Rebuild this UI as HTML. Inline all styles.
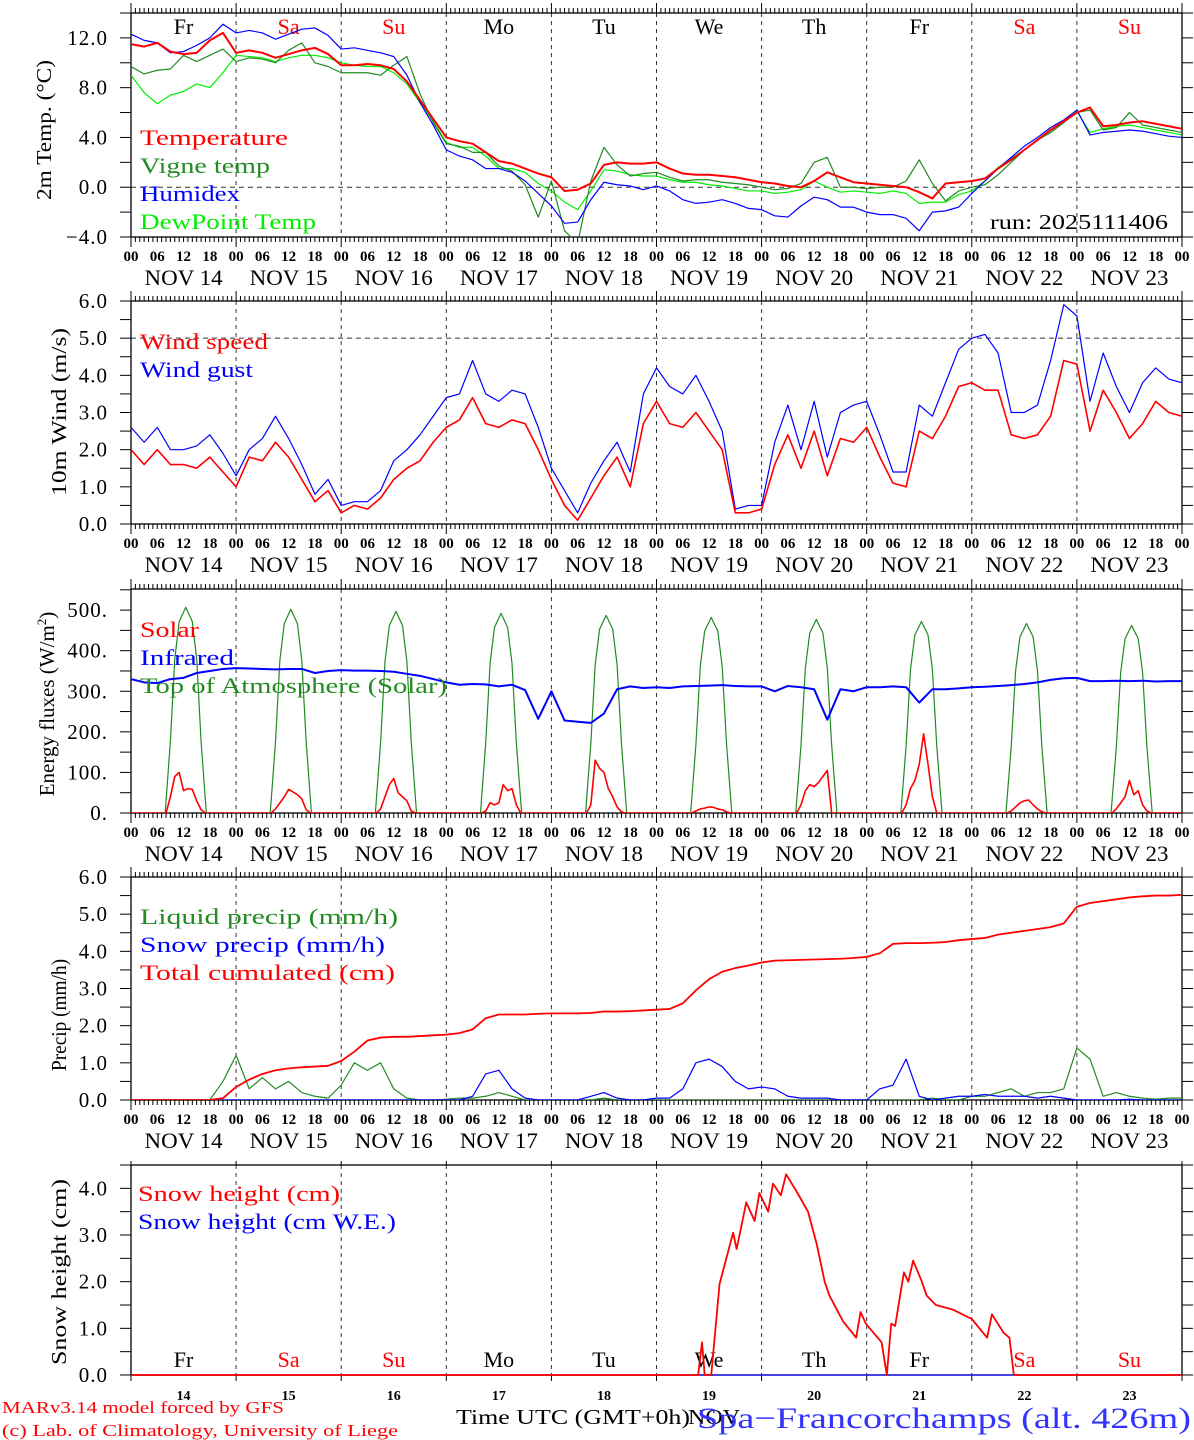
<!DOCTYPE html>
<html><head><meta charset="utf-8"><title>MAR forecast Spa-Francorchamps</title>
<style>
html,body{margin:0;padding:0;background:#fff;}
svg{display:block;font-family:"Liberation Serif",serif;}
</style></head>
<body>
<svg id="chart" width="1194" height="1440" viewBox="0 0 1194 1440" xmlns="http://www.w3.org/2000/svg">
<defs>
<clipPath id="c1"><rect x="131" y="13" width="1051" height="224"/></clipPath>
<clipPath id="c2"><rect x="131" y="301" width="1051" height="223"/></clipPath>
<clipPath id="c3"><rect x="131" y="589" width="1051" height="224"/></clipPath>
<clipPath id="c4"><rect x="131" y="877" width="1051" height="223"/></clipPath>
<clipPath id="c5"><rect x="131" y="1165" width="1051" height="212"/></clipPath>
</defs>
<g id="axes"></g>
<g id="marks"></g>
<g id="labels" font-size="22">
<text transform="translate(51,130) rotate(-90)" text-anchor="middle" textLength="140" font-size="21">2m Temp. (°C)</text>
<text transform="translate(66,412) rotate(-90)" text-anchor="middle" textLength="168" font-size="21">10m Wind (m/s)</text>
<text transform="translate(54,704) rotate(-90)" text-anchor="middle" font-size="21">Energy fluxes (W/m<tspan font-size="13" dy="-8">2</tspan><tspan dy="8">)</tspan></text>
<text transform="translate(66,1015) rotate(-90)" text-anchor="middle" textLength="112" font-size="21">Precip (mm/h)</text>
<text transform="translate(66,1272) rotate(-90)" text-anchor="middle" textLength="186" font-size="21">Snow height (cm)</text>

<text x="140" y="145" fill="#ff0000" textLength="148">Temperature</text>
<text x="140" y="173" fill="#228b22" textLength="130">Vigne temp</text>
<text x="140" y="201" fill="#0000ff" textLength="100">Humidex</text>
<text x="140" y="229" fill="#00ee00" textLength="176">DewPoint Temp</text>
<text x="990" y="229" fill="#000" textLength="178" font-size="21">run: 2025111406</text>

<text x="140" y="349" fill="#ff0000" textLength="128">Wind speed</text>
<text x="140" y="377" fill="#0000ff" textLength="113">Wind gust</text>

<text x="140" y="637" fill="#ff0000" textLength="59">Solar</text>
<text x="140" y="665" fill="#0000ff" textLength="94">Infrared</text>
<text x="140" y="693" fill="#228b22" textLength="307">Top of Atmosphere (Solar)</text>

<text x="140" y="924" fill="#228b22" textLength="258">Liquid precip (mm/h)</text>
<text x="140" y="952" fill="#0000ff" textLength="245">Snow precip (mm/h)</text>
<text x="140" y="980" fill="#ff0000" textLength="255">Total cumulated (cm)</text>

<text x="138" y="1201" fill="#ff0000" textLength="202">Snow height (cm)</text>
<text x="138" y="1229" fill="#0000ff" textLength="258">Snow height (cm W.E.)</text>

<text x="2" y="1413" fill="#ff0000" font-size="17" textLength="282">MARv3.14 model forced by GFS</text>
<text x="2" y="1436" fill="#ff0000" font-size="17" textLength="396">(c) Lab. of Climatology, University of Liege</text>
<text x="456" y="1424" fill="#000" font-size="21" textLength="234">Time UTC (GMT+0h)</text>
<text x="688" y="1424" fill="#000" font-size="21" textLength="52">NOV</text>
<text x="697" y="1428" fill="#3333ff" font-size="30" textLength="494">Spa−Francorchamps (alt. 426m)</text>
</g>
</svg>
<script>
// ---------- data ----------
const dayNames = ["Fr","Sa","Su","Mo","Tu","We","Th","Fr","Sa","Su"];
const dayNums = ["14","15","16","17","18","19","20","21","22","23"];
const hourTicks = ["00","06","12","18"];
const tempTicks = [-4, 0, 4, 8, 12];
const windTicks = [0,1,2,3,4,5,6];
const energyTicks = [0,100,200,300,400,500];
const precipTicks = [0,1,2,3,4,5,6];
const snowTicks = [0,1,2,3,4];

// 3-hourly series (81 values, hours 0..240)
const temperature = [11.5,11.3,11.6,10.9,10.7,10.8,11.8,12.4,
 10.8,11.0,10.8,10.4,10.7,11.0,11.2,10.7,
 9.8,9.8,9.9,9.8,9.5,8.5,7.0,5.5,
 4.0,3.7,3.5,2.8,2.1,1.9,1.5,1.1,
 0.8,-0.3,-0.2,0.3,1.8,2.0,1.9,1.9,
 2.0,1.5,1.1,1.0,1.0,0.9,0.8,0.6,
 0.4,0.3,0.1,0.0,0.5,1.2,0.8,0.4,
 0.3,0.2,0.1,0.0,-0.4,-0.9,0.3,0.4,
 0.5,0.7,1.5,2.2,3.0,3.8,4.6,5.3,
 6.0,6.4,4.9,5.0,5.2,5.3,5.1,4.9,4.7];
const vigneTemp = [9.7,9.1,9.4,9.5,10.6,10.1,10.6,11.1,
 10.1,10.4,10.3,10.0,11.0,11.6,10.0,9.7,
 9.2,9.2,9.2,9.0,9.8,10.5,7.5,5.2,
 3.5,3.3,2.8,2.8,1.7,1.3,0.2,-2.4,
 0.5,-3.5,-4.5,0.5,3.2,1.8,0.9,1.1,
 1.2,0.8,0.5,0.6,0.6,0.4,0.3,0.2,
 0.0,-0.2,-0.1,0.3,2.0,2.4,0.0,0.0,
 -0.1,0.0,0.0,0.5,2.2,0.3,-1.1,-0.3,
 0.0,0.2,1.0,2.0,3.0,3.8,4.4,5.2,
 6.0,6.2,4.6,4.8,6.0,5.0,4.8,4.6,4.4];
const humidex = [12.3,11.8,11.6,10.8,10.9,11.4,12.0,13.1,
 12.4,12.6,12.4,11.9,12.3,12.7,12.8,12.2,
 11.1,11.2,11.0,10.8,10.5,9.0,6.8,5.0,
 3.0,2.5,2.2,1.5,1.5,1.2,0.5,-0.5,
 -1.5,-2.9,-2.8,-1.0,0.4,0.2,0.1,-0.2,
 0.1,-0.3,-1.0,-1.3,-1.2,-1.0,-1.3,-1.7,
 -1.8,-2.3,-2.4,-1.5,-0.8,-1.0,-1.6,-1.6,
 -2.0,-2.2,-2.2,-2.5,-3.5,-2.0,-1.9,-1.6,
 -0.5,0.5,1.5,2.4,3.3,4.0,4.8,5.4,
 6.2,4.2,4.4,4.5,4.6,4.5,4.3,4.1,4.0];
const dewPoint = [9.0,7.6,6.7,7.4,7.7,8.3,8.0,9.2,
 10.6,10.5,10.4,10.1,10.4,10.6,10.6,10.4,
 10.0,9.8,9.7,9.7,9.2,8.3,6.8,5.3,
 3.6,3.2,3.2,2.5,1.5,1.5,1.2,0.3,
 -0.3,-1.2,-1.8,-0.3,1.4,1.3,1.0,0.9,
 0.9,0.6,0.4,0.4,0.2,0.1,-0.1,-0.3,
 -0.3,-0.5,-0.4,-0.2,0.5,0.0,-0.4,-0.3,
 -0.4,-0.5,-0.3,-0.5,-1.3,-1.2,-1.2,-0.6,
 -0.3,0.5,1.6,2.3,3.0,3.8,4.4,5.2,
 6.1,4.4,4.7,4.9,5.0,4.8,4.6,4.4,4.2];
const windSpeed = [2.0,1.6,2.0,1.6,1.6,1.5,1.8,1.4,
 1.0,1.8,1.7,2.2,1.8,1.2,0.6,0.9,
 0.3,0.5,0.4,0.7,1.2,1.5,1.7,2.2,
 2.6,2.8,3.4,2.7,2.6,2.8,2.7,2.0,
 1.2,0.5,0.1,0.7,1.3,1.8,1.0,2.7,
 3.3,2.7,2.6,3.0,2.5,2.0,0.3,0.3,
 0.4,1.6,2.4,1.5,2.5,1.3,2.3,2.2,
 2.6,1.8,1.1,1.0,2.5,2.3,2.9,3.7,
 3.8,3.6,3.6,2.4,2.3,2.4,2.9,4.4,
 4.3,2.5,3.6,3.0,2.3,2.7,3.3,3.0,2.9];
const windGust = [2.6,2.2,2.6,2.0,2.0,2.1,2.4,1.9,
 1.3,2.0,2.3,2.9,2.3,1.6,0.8,1.2,
 0.5,0.6,0.6,0.9,1.7,2.0,2.4,2.9,
 3.4,3.5,4.4,3.5,3.3,3.6,3.5,2.6,
 1.5,0.9,0.3,1.1,1.7,2.2,1.4,3.5,
 4.2,3.7,3.5,4.0,3.3,2.5,0.4,0.5,
 0.5,2.2,3.2,2.0,3.3,1.8,3.0,3.2,
 3.3,2.4,1.4,1.4,3.2,2.9,3.8,4.7,
 5.0,5.1,4.6,3.0,3.0,3.2,4.4,5.9,
 5.6,3.3,4.6,3.7,3.0,3.8,4.2,3.9,3.8];
const infrared = [330,322,320,330,333,345,350,355,
 357,356,355,354,355,355,345,350,
 352,351,351,350,348,343,338,330,
 322,316,318,317,312,316,303,232,
 300,228,225,222,245,305,312,308,
 310,308,312,313,314,315,313,312,
 312,300,313,310,305,230,305,300,
 310,310,312,310,272,305,305,307,
 310,311,313,315,318,322,328,332,
 333,325,325,326,325,326,324,325,325];
const totalCumul = [0,0,0,0,0,0,0,0.05,
 0.35,0.55,0.7,0.8,0.85,0.88,0.9,0.92,
 1.05,1.3,1.6,1.68,1.7,1.7,1.72,1.74,
 1.76,1.8,1.9,2.2,2.3,2.3,2.3,2.32,
 2.33,2.33,2.33,2.34,2.38,2.38,2.39,2.41,
 2.43,2.45,2.6,2.95,3.25,3.45,3.55,3.62,
 3.7,3.75,3.76,3.77,3.78,3.79,3.8,3.82,
 3.85,3.95,4.2,4.22,4.22,4.23,4.25,4.3,
 4.33,4.36,4.45,4.5,4.55,4.6,4.65,4.75,
 5.2,5.3,5.35,5.4,5.45,5.48,5.5,5.5,5.52];
const liquidPrecip = [0,0,0,0,0,0,0,0.5,
 1.2,0.3,0.6,0.3,0.5,0.2,0.1,0.05,
 0.4,1.0,0.8,1.0,0.3,0.05,0,0,
 0.02,0.05,0.05,0.1,0.2,0.1,0,0,
 0,0,0,0,0.05,0,0,0,
 0,0,0,0,0,0,0,0,
 0,0,0,0,0,0,0,0,
 0,0,0,0,0,0.05,0,0,
 0.1,0.1,0.2,0.3,0.1,0.2,0.2,0.3,
 1.4,1.1,0.1,0.2,0.1,0.05,0.02,0.05,0.05];
const snowPrecip = [0,0,0,0,0,0,0,0,
 0,0,0,0,0,0,0,0,
 0,0,0,0,0,0,0,0,
 0,0,0.1,0.7,0.8,0.3,0.05,0,
 0,0,0,0.1,0.2,0.05,0,0,
 0.05,0.05,0.3,1.0,1.1,0.9,0.5,0.3,
 0.35,0.3,0.1,0.05,0.05,0.05,0,0,
 0,0.3,0.4,1.1,0.1,0,0.05,0.1,
 0.1,0.15,0.1,0.1,0.1,0.05,0.1,0.05,
 0,0,0,0,0.02,0,0,0,0];

// daytime radiation: hours of day and per-day values
const solarHourOfDay = [8,9,10,11,12,13,14,15,16,17];
const solarByDay = [
 [0,40,90,100,55,60,58,30,8,0],
 [0,10,25,40,58,52,45,35,8,0],
 [0,10,40,70,85,50,40,30,5,0],
 [0,5,25,20,25,70,55,60,20,0],
 [0,20,130,110,100,60,40,15,3,0],
 [0,5,10,12,15,14,10,8,3,0],
 [0,20,55,70,65,75,90,105,0,0],
 [0,20,60,80,120,195,120,40,0,0],
 [0,5,15,25,30,32,20,10,3,0],
 [0,10,25,40,80,45,55,20,5,0]];
const toaHourOfDay = [7.8,9,10,11,12.5,14,15,16,17.2];
const toaFraction = [0,0.35,0.75,0.93,1,0.93,0.75,0.35,0];
const toaPeak = [507,502,497,492,487,482,477,472,467,462];

// snow height (irregular times)
const snowHours = [0,129.5,130.4,131,132.5,134.4,137.5,138.3,140.5,142.4,143.5,145.5,146.6,148.4,149.6,152.2,154.6,156.6,158.4,159.5,162.6,165.6,166.6,167.8,171.4,172.6,173.6,174.5,176.5,177.5,178.6,180.6,181.7,183.8,187.7,192,195.5,196.6,199.3,200.6,201.6,240];
const snowHeight = [0,0,0.7,0,0,1.95,3.05,2.7,3.7,3.3,3.9,3.5,4.1,3.85,4.3,3.9,3.5,2.8,2.0,1.7,1.15,0.8,1.35,1.1,0.7,0,1.1,1.05,2.2,2.0,2.45,2.0,1.7,1.5,1.4,1.2,0.8,1.3,0.9,0.8,0,0];
const snowWE = [0,0];
const snowWEHours = [0,240];

// ---------- layout ----------
const NS = "http://www.w3.org/2000/svg";
const X0 = 131, X1 = 1182, HMAX = 240;
const xh = h => X0 + h * (X1 - X0) / HMAX;
const panels = [
 {id:1, top:13, bot:237, vmin:-4, vmax:14, major:tempTicks, minorStep:2, fmt:v=>v.toFixed(1).replace('-','−'), clip:'c1'},
 {id:2, top:301, bot:524, vmin:0, vmax:6, major:windTicks, minorStep:0.5, fmt:v=>v.toFixed(1), clip:'c2'},
 {id:3, top:589, bot:813, vmin:0, vmax:552, major:energyTicks, minorStep:50, fmt:v=>v+'.', clip:'c3'},
 {id:4, top:877, bot:1100, vmin:0, vmax:6, major:precipTicks, minorStep:0.5, fmt:v=>v.toFixed(1), clip:'c4'},
 {id:5, top:1165, bot:1375, vmin:0, vmax:4.5, major:snowTicks, minorStep:0.5, fmt:v=>v.toFixed(1), clip:'c5'}
];
const yv = (p, v) => p.bot - (v - p.vmin) * (p.bot - p.top) / (p.vmax - p.vmin);
const axes = document.getElementById('axes');
const marks = document.getElementById('marks');
function mk(tag, attrs, parent){
  const e = document.createElementNS(NS, tag);
  for (const k in attrs) e.setAttribute(k, attrs[k]);
  parent.appendChild(e);
  return e;
}
function line(x1,y1,x2,y2,stroke,w,dash,parent){
  const a = {x1:x1,y1:y1,x2:x2,y2:y2,stroke:stroke,'stroke-width':w};
  if (dash) a['stroke-dasharray'] = dash;
  return mk('line', a, parent);
}

panels.forEach(p => {
  const g = mk('g', {}, axes);
  
  
  for (let d = 1; d < 10; d++) {
    const l = line(xh(d*24), p.top, xh(d*24), p.bot, '#333', 1, '4,4', g);
    
    
  }
  if (p.id === 1) {
    const l = line(X0, yv(p,0), X1, yv(p,0), '#333', 1, '5,4', g);
    
    
  }
  if (p.id === 2) {
    const l = line(X0, yv(p,5), X1, yv(p,5), '#333', 1, '5,4', g);
    
    
  }
  for (let h = 0; h <= HMAX; h++) {
    const isDay = h % 24 === 0;
    if (p.id === 5 && !isDay) continue;
    const len = isDay ? 10 : 5;
    line(xh(h), p.top, xh(h), p.top - (p.id===5?4:len), '#000', 1, null, g);
    line(xh(h), p.bot, xh(h), p.bot + (p.id===5?6:len), '#000', 1, null, g);
  }
  for (let v = p.vmin; v <= p.vmax + 1e-6; v += p.minorStep) {
    const y = yv(p, v);
    line(X0 - 11, y, X0, y, '#000', 1, null, g);
    line(X1, y, X1 + 11, y, '#000', 1, null, g);
  }
  p.major.forEach(v => {
    const t = mk('text', {x:108, y:yv(p,v)+7, 'text-anchor':'end', 'font-size':21, 'letter-spacing':1}, g);
    
    
    t.textContent = p.fmt(v);
  });
  const f = mk('rect', {x:X0, y:p.top, width:X1-X0, height:p.bot-p.top, fill:'none', stroke:'#000', 'stroke-width':1.3}, g);
  
  
  if (p.id < 5) {
    for (let d = 0; d <= 10; d++) {
      hourTicks.forEach((lab, i) => {
        if (d === 10 && i > 0) return;
        const t = mk('text', {x:xh(d*24+i*6), y:p.bot+24, 'text-anchor':'middle', 'font-size':15, 'font-weight':'bold'}, g);
        
        
        t.textContent = lab;
      });
    }
    dayNums.forEach((n, d) => {
      const t = mk('text', {x:xh(d*24+12), y:p.bot+48, 'text-anchor':'middle', 'font-size':22, textLength:78}, g);
      
      
      t.textContent = 'NOV ' + n;
    });
  } else {
    dayNums.forEach((n, d) => {
      const t = mk('text', {x:xh(d*24+12), y:p.bot+25, 'text-anchor':'middle', 'font-size':14, 'font-weight':'bold'}, g);
      
      
      t.textContent = n;
    });
  }
  if (p.id === 1 || p.id === 5) {
    dayNames.forEach((n, d) => {
      const t = mk('text', {x:xh(d*24+12), y:(p.id===1 ? p.top+21 : p.bot-8), 'text-anchor':'middle', 'font-size':22, fill:(n==='Sa'||n==='Su') ? '#ff0000' : '#000'}, g);
      
      
      t.textContent = n;
    });
  }
});

function series(pi, hours, vals, color, width, name){
  const p = panels[pi];
  const pts = vals.map((v, i) => xh(hours[i]).toFixed(2) + ',' + yv(p, v).toFixed(2)).join(' ');
  const e = mk('polyline', {points:pts, fill:'none', stroke:color, 'stroke-width':width, 'stroke-linejoin':'round', 'clip-path':'url(#' + p.clip + ')'}, marks);
  
  
  return e;
}
const hours3 = temperature.map((_, i) => i * 3);
series(0, hours3, dewPoint, '#00ee00', 1.2, 'dewpoint-line');
series(0, hours3, vigneTemp, '#228b22', 1.2, 'vigne-temp-line');
series(0, hours3, humidex, '#0000ff', 1.2, 'humidex-line');
series(0, hours3, temperature, '#ff0000', 2, 'temperature-line');
series(1, hours3, windGust, '#0000ff', 1.2, 'wind-gust-line');
series(1, hours3, windSpeed, '#ff0000', 1.6, 'wind-speed-line');
const toaH = [0], toaV = [0], solH = [0], solV = [0];
toaPeak.forEach((pk, d) => {
  toaHourOfDay.forEach((h, j) => { toaH.push(d*24 + h); toaV.push(pk * toaFraction[j]); });
});
toaH.push(240); toaV.push(0);
solarByDay.forEach((arr, d) => {
  solarHourOfDay.forEach((h, j) => { solH.push(d*24 + h); solV.push(arr[j]); });
});
solH.push(240); solV.push(0);
series(2, toaH, toaV, '#228b22', 1.2, 'toa-solar-line');
series(2, hours3.slice(0, infrared.length), infrared, '#0000ff', 2, 'infrared-line');
series(2, solH, solV, '#ff0000', 1.6, 'solar-line');
series(3, hours3, liquidPrecip, '#228b22', 1.2, 'liquid-precip-line');
series(3, hours3, snowPrecip, '#0000ff', 1.2, 'snow-precip-line');
series(3, hours3, totalCumul, '#ff0000', 1.8, 'total-cumulated-line');
series(4, snowWEHours, snowWE, '#0000ff', 1.2, 'snow-height-we-line');
series(4, snowHours, snowHeight, '#ff0000', 1.8, 'snow-height-line');

// stretch glyphs (not just spacing) to match the wide plotting font
document.querySelectorAll('text[textLength]').forEach(t => t.setAttribute('lengthAdjust', 'spacingAndGlyphs'));
</script>
</body></html>
